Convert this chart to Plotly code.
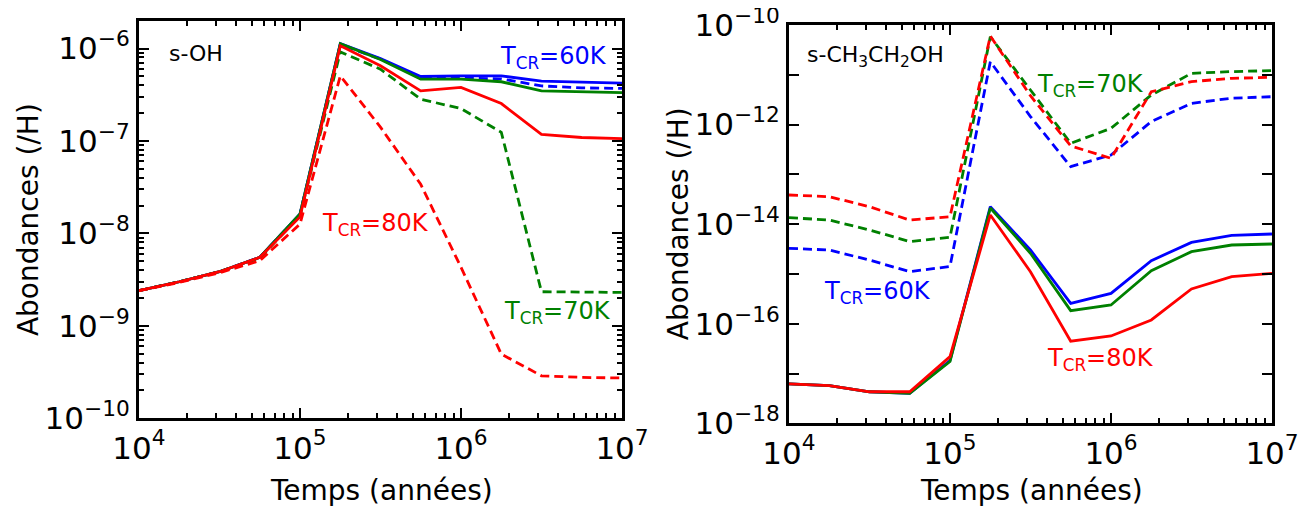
import plotly.graph_objects as go

# ---------------- data ----------------
TIME = [1.0e4, 1.78e4, 3.16e4, 5.62e4, 1.0e5, 1.78e5, 3.16e5, 5.62e5,
        1.0e6, 1.78e6, 3.16e6, 5.62e6, 1.0e7]

# s-OH (left panel)
OH_60_SOLID = [2.4e-9, 3.0e-9, 3.85e-9, 5.5e-9, 1.62e-8, 1.13e-6, 7.8e-7, 4.98e-7,
               5.06e-7, 5.06e-7, 4.43e-7, 4.29e-7, 4.22e-7]
OH_60_DASH = [2.4e-9, 3.0e-9, 3.85e-9, 5.5e-9, 1.6e-8, 1.1e-6, 7.7e-7, 4.8e-7,
              4.8e-7, 4.7e-7, 3.94e-7, 3.75e-7, 3.7e-7]
OH_70_SOLID = [2.4e-9, 3.0e-9, 3.85e-9, 5.5e-9, 1.62e-8, 1.13e-6, 7.6e-7, 4.66e-7,
               4.66e-7, 4.37e-7, 3.48e-7, 3.4e-7, 3.34e-7]
OH_70_DASH = [2.4e-9, 3.0e-9, 3.85e-9, 5.4e-9, 1.55e-8, 9.2e-7, 5.97e-7, 2.83e-7,
              2.24e-7, 1.24e-7, 2.34e-9, 2.34e-9, 2.3e-9]
OH_80_SOLID = [2.4e-9, 3.0e-9, 3.85e-9, 5.5e-9, 1.51e-8, 1.07e-6, 6.5e-7, 3.48e-7,
               3.8e-7, 2.54e-7, 1.18e-7, 1.09e-7, 1.06e-7]
OH_80_DASH = [2.4e-9, 2.95e-9, 3.75e-9, 5.06e-9, 1.26e-8, 5.06e-7, 1.41e-7, 3.4e-8,
              4.3e-9, 4.95e-10, 2.88e-10, 2.77e-10, 2.73e-10]

# s-CH3CH2OH (right panel)
ET_60_SOLID = [6.2e-18, 5.7e-18, 4.3e-18, 4.0e-18, 1.82e-17, 2.24e-14, 3.03e-15, 2.57e-16,
               4.07e-16, 1.85e-15, 4.3e-15, 5.97e-15, 6.34e-15]
ET_70_SOLID = [6.2e-18, 5.7e-18, 4.3e-18, 4.0e-18, 1.74e-17, 2.11e-14, 2.6e-15, 1.83e-16,
               2.38e-16, 1.16e-15, 2.8e-15, 3.81e-15, 3.99e-15]
ET_80_SOLID = [6.2e-18, 5.7e-18, 4.3e-18, 4.3e-18, 2.18e-17, 1.53e-14, 1.11e-15, 4.47e-17,
               5.68e-17, 1.19e-16, 4.99e-16, 8.8e-16, 1.03e-15]
ET_60_DASH = [3.27e-15, 3.02e-15, 1.9e-15, 1.11e-15, 1.41e-15, 1.83e-11, 1.45e-12, 1.43e-13,
              2.45e-13, 1.15e-12, 2.67e-12, 3.39e-12, 3.63e-12]
ET_70_DASH = [1.35e-14, 1.21e-14, 7.64e-15, 4.47e-15, 5.43e-15, 5.83e-11, 4.95e-12, 4.2e-13,
              8.4e-13, 3.93e-12, 1.07e-11, 1.16e-11, 1.21e-11]
ET_80_DASH = [3.85e-14, 3.56e-14, 2.24e-14, 1.21e-14, 1.41e-14, 6.0e-11, 3.8e-12, 3.72e-13,
              2.1e-13, 4.57e-12, 7.28e-12, 8.5e-12, 8.9e-12]

X_TICKS = [1e4, 1e5, 1e6, 1e7]
X_TICKTEXT = ["10<sup>4</sup>", "10<sup>5</sup>", "10<sup>6</sup>", "10<sup>7</sup>"]
Y1_TICKS = [1e-10, 1e-9, 1e-8, 1e-7, 1e-6]
Y1_TICKTEXT = ["10<sup>−10</sup>", "10<sup>−9</sup>", "10<sup>−8</sup>", "10<sup>−7</sup>", "10<sup>−6</sup>"]
Y2_TICKS = [1e-18, 1e-17, 1e-16, 1e-15, 1e-14, 1e-13, 1e-12, 1e-11, 1e-10]
Y2_TICKTEXT = ["10<sup>−18</sup>", "", "10<sup>−16</sup>", "", "10<sup>−14</sup>", "",
               "10<sup>−12</sup>", "", "10<sup>−10</sup>"]

BLUE, GREEN, RED = "#0000ff", "#008000", "#ff0000"
FONT = "DejaVu Sans"

# the page keeps an 8px body margin, so the figure starts 8px in from the window edge
W, H = 1298, 500

fig = go.Figure()

def add(y, color, dash, xa, ya):
    fig.add_trace(go.Scatter(
        x=TIME, y=y, mode="lines", xaxis=xa, yaxis=ya,
        line=dict(color=color, width=2.8, dash=("9px,5px" if dash else "solid")),
        showlegend=False, hoverinfo="skip"))

for ys, col in [((OH_60_SOLID, OH_60_DASH), BLUE), ((OH_70_SOLID, OH_70_DASH), GREEN),
                ((OH_80_SOLID, OH_80_DASH), RED)]:
    add(ys[0], col, False, "x", "y")
    add(ys[1], col, True, "x", "y")

for ys, col in [((ET_60_SOLID, ET_60_DASH), BLUE), ((ET_70_SOLID, ET_70_DASH), GREEN),
                ((ET_80_SOLID, ET_80_DASH), RED)]:
    add(ys[0], col, False, "x2", "y2")
    add(ys[1], col, True, "x2", "y2")

minor_x = [m * 10 ** e for e in range(4, 7) for m in range(2, 10)]
minor_y1 = [m * 10 ** e for e in range(-10, -5) for m in range(2, 10)]

common = dict(type="log", ticks="inside", ticklen=10, tickwidth=2, tickcolor="black",
              showline=True, linewidth=3, linecolor="black", mirror="allticks",
              showgrid=False, zeroline=False, automargin=False, ticklabeloverflow="allow",
              tickfont=dict(family=FONT, size=31, color="black"))
minor_common = dict(ticks="inside", ticklen=5, tickwidth=1.5, tickcolor="black", showgrid=False)

fig.update_layout(
    width=W, height=H,
    margin=dict(l=0, r=0, t=0, b=0, autoexpand=False),
    paper_bgcolor="white", plot_bgcolor="white",
    showlegend=False,
    font=dict(family=FONT, color="black"),
    xaxis=dict(domain=[0.10092, 0.47304], range=[4, 7], anchor="y",
               tickvals=X_TICKS, ticktext=X_TICKTEXT,
               minor=dict(tickvals=minor_x, **minor_common), **common),
    yaxis=dict(domain=[0.1794, 0.9746], range=[-10, -5.699], anchor="x",
               tickvals=Y1_TICKS, ticktext=Y1_TICKTEXT,
               minor=dict(tickvals=minor_y1, **minor_common), **common),
    xaxis2=dict(domain=[0.60169, 0.97381], range=[4, 7], anchor="y2",
                tickvals=X_TICKS, ticktext=X_TICKTEXT,
                minor=dict(tickvals=minor_x, **minor_common), **common),
    yaxis2=dict(domain=[0.1694, 0.966], range=[-18, -10], anchor="x2",
                tickvals=Y2_TICKS, ticktext=Y2_TICKTEXT, **common),
)

ann = []
def label(text, x, y, xref, yref, color, size, xanchor="left"):
    ann.append(dict(text=text, x=x, y=y, xref=xref, yref=yref, showarrow=False,
                    xanchor=xanchor, yanchor="middle",
                    font=dict(family=FONT, size=size, color=color)))

# left panel labels
label("s-OH", 4.174, -6.051, "x", "y", "black", 22)
label("T<sub>CR</sub>=60K", 6.23, -6.10, "x", "y", BLUE, 24)
label("T<sub>CR</sub>=80K", 5.124, -7.90, "x", "y", RED, 24)
label("T<sub>CR</sub>=70K", 6.255, -8.86, "x", "y", GREEN, 24)
# right panel labels
label("s-CH<sub>3</sub>CH<sub>2</sub>OH", 4.099, -10.64, "x2", "y2", "black", 22)
label("T<sub>CR</sub>=70K", 5.528, -11.22, "x2", "y2", GREEN, 24)
label("T<sub>CR</sub>=60K", 4.205, -15.37, "x2", "y2", BLUE, 24)
label("T<sub>CR</sub>=80K", 5.59, -16.71, "x2", "y2", RED, 24)

# axis titles
for xc in (0.28737, 0.78814):
    ann.append(dict(text="Temps (années)", x=xc, y=0.036, xref="paper", yref="paper",
                    showarrow=False, xanchor="center", yanchor="middle",
                    font=dict(family=FONT, size=28, color="black")))
for xc, yc in ((0.0155, 0.576), (0.5163, 0.568)):
    ann.append(dict(text="Abondances (/H)", x=xc, y=yc, xref="paper", yref="paper",
                    showarrow=False, xanchor="center", yanchor="middle", textangle=-90,
                    font=dict(family=FONT, size=28, color="black")))

fig.update_layout(annotations=ann)
fig.write_html("out.html")
